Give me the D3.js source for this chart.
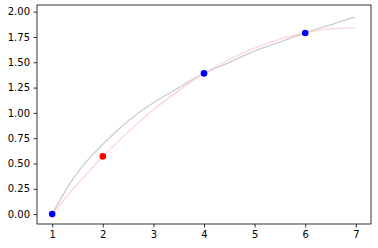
<!DOCTYPE html>
<html>
<head>
<meta charset="utf-8">
<script src="https://cdn.jsdelivr.net/npm/d3@7"></script>
<style>
body { margin: 0; background: #fff; }
.axis text { font-family: "DejaVu Sans", sans-serif; font-size: 10px; fill: #000; }
.axis line, .axis path { stroke: #000; stroke-width: 0.8; }
</style>
</head>
<body>
<div id="chart"></div>
<script>
// curve samples
var curveX = [1, 1.25, 1.5, 1.75, 2, 2.5, 3, 3.5, 4, 4.5, 5, 5.5, 6, 6.5, 7];
var grayY = [0, 0.22, 0.41, 0.56, 0.69, 0.92, 1.10, 1.25, 1.39, 1.50, 1.61, 1.70, 1.79, 1.87, 1.95];
var pinkY = [0, 0.15, 0.30, 0.43, 0.57, 0.81, 1.03, 1.22, 1.39, 1.53, 1.64, 1.73, 1.79, 1.83, 1.84];
var blueX = [1, 4, 6];
var blueY = [0, 1.39, 1.79];
var redX = [2];
var redY = [0.57];
var xTicks = [1, 2, 3, 4, 5, 6, 7];
var yTicks = [0, 0.25, 0.5, 0.75, 1, 1.25, 1.5, 1.75, 2];

var W = 378, H = 248,
    margin = {top: 5, right: 7, bottom: 24, left: 37},
    width = W - margin.left - margin.right,
    height = H - margin.top - margin.bottom;

var svg = d3.select("#chart").append("svg").attr("width", W).attr("height", H),
    g = svg.append("g").attr("transform", "translate(" + margin.left + "," + margin.top + ")");

var x = d3.scaleLinear().domain([0.7, 7.3]).range([0, width]);
var y = d3.scaleLinear().domain([-0.098, 2.066]).range([height, 0]);

var line = d3.line()
    .curve(d3.curveNatural)
    .x(function(d) { return x(d[0]); })
    .y(function(d) { return y(d[1]); });

g.append("path")
    .datum(d3.zip(curveX, grayY))
    .attr("d", line)
    .attr("fill", "none")
    .attr("stroke", "#cdcdcd")
    .attr("stroke-width", 1.3);

g.append("path")
    .datum(d3.zip(curveX, pinkY))
    .attr("d", line)
    .attr("fill", "none")
    .attr("stroke", "#ffd6d6")
    .attr("stroke-width", 1.3);

g.selectAll(".blue")
    .data(d3.zip(blueX, blueY))
    .enter().append("circle")
      .attr("cx", function(d) { return x(d[0]); })
      .attr("cy", function(d) { return y(d[1]); })
      .attr("r", 3.3)
      .attr("fill", "#0000ff");

g.selectAll(".red")
    .data(d3.zip(redX, redY))
    .enter().append("circle")
      .attr("cx", function(d) { return x(d[0]); })
      .attr("cy", function(d) { return y(d[1]); })
      .attr("r", 3.3)
      .attr("fill", "#ff0000");

g.append("g")
    .attr("class", "axis")
    .attr("transform", "translate(0," + height + ")")
    .call(d3.axisBottom(x).tickValues(xTicks).tickSize(3.5).tickPadding(3.5).tickFormat(d3.format("d")));

g.append("g")
    .attr("class", "axis")
    .call(d3.axisLeft(y).tickValues(yTicks).tickSize(3.5).tickPadding(3.5).tickFormat(d3.format(".2f")));

g.selectAll(".axis .domain").remove();

g.append("rect")
    .attr("width", width)
    .attr("height", height)
    .attr("fill", "none")
    .attr("stroke", "#000")
    .attr("stroke-width", 0.8);
</script>
</body>
</html>
